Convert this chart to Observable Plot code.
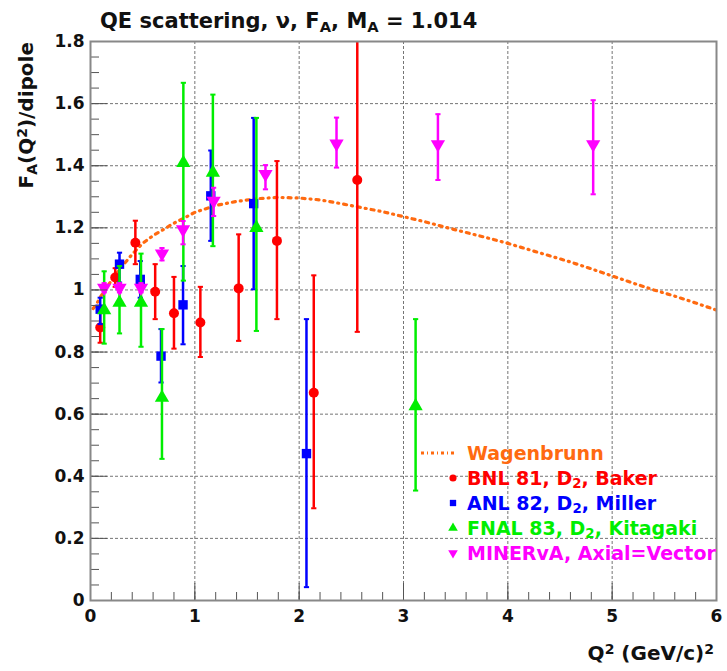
<!DOCTYPE html>
<html>
<head>
<meta charset="utf-8">
<script src="https://cdn.jsdelivr.net/npm/d3@7"></script>
<script src="https://cdn.jsdelivr.net/npm/@observablehq/plot@0.6"></script>
<style>
  body { margin: 0; background: white; }
  #chart svg { display: block; }
</style>
</head>
<body>
<div id="chart"></div>
<script>
// ---- Data ----
const xMajor = [0, 1, 2, 3, 4, 5, 6];
const xMinor = d3.range(0, 6.001, 0.2);
const yMajor = [0, 0.2, 0.4, 0.6, 0.8, 1, 1.2, 1.4, 1.6, 1.8];
const yMinor = d3.range(0, 1.8001, 0.05);

// Wagenbrunn curve
const wagQ2 = [0.0, 0.05, 0.1, 0.2, 0.3, 0.4, 0.5, 0.6, 0.7, 0.8, 0.9, 1.0, 1.2, 1.4, 1.6, 1.8, 2.0, 2.2, 2.4, 2.6, 2.8, 3.0, 3.2, 3.4, 3.6, 3.8, 4.0, 4.2, 4.4, 4.6, 4.8, 5.0, 5.2, 5.4, 5.6, 5.8, 6.0];
const wagR  = [0.93, 0.95, 0.98, 1.03, 1.075, 1.115, 1.15, 1.175, 1.195, 1.215, 1.232, 1.25, 1.272, 1.285, 1.294, 1.298, 1.296, 1.29, 1.278, 1.265, 1.252, 1.236, 1.22, 1.202, 1.185, 1.168, 1.15, 1.13, 1.11, 1.09, 1.068, 1.045, 1.022, 1.0, 0.98, 0.958, 0.935];

// BNL 81, D2, Baker (red)
const bnlQ2 = [0.093, 0.237, 0.43, 0.62, 0.80, 1.053, 1.42, 1.787, 2.14, 2.557];
const bnlF  = [0.879, 1.04, 1.152, 0.994, 0.925, 0.895, 1.005, 1.158, 0.669, 1.354];
const bnlLo = [0.83, 1.01, 1.083, 0.906, 0.811, 0.784, 0.836, 0.906, 0.297, 0.865];
const bnlHi = [0.93, 1.07, 1.223, 1.083, 1.042, 1.01, 1.179, 1.415, 1.047, 1.9];

// ANL 82, D2, Miller (blue)
const anlQ2 = [0.093, 0.278, 0.477, 0.676, 0.887, 1.153, 1.564, 2.07];
const anlF  = [0.938, 1.083, 1.034, 0.787, 0.952, 1.303, 1.278, 0.473];
const anlLo = [0.89, 1.024, 0.975, 0.702, 0.825, 1.158, 1.002, 0.043];
const anlHi = [0.975, 1.12, 1.093, 0.874, 1.077, 1.449, 1.554, 0.906];

// FNAL 83, D2, Kitagaki (green)
const fnalQ2 = [0.131, 0.278, 0.484, 0.685, 0.89, 1.173, 1.59, 3.116];
const fnalF  = [0.935, 0.959, 0.959, 0.653, 1.409, 1.378, 1.2, 0.626];
const fnalLo = [0.827, 0.86, 0.817, 0.456, 1.03, 1.141, 0.868, 0.354];
const fnalHi = [1.06, 1.077, 1.117, 0.874, 1.667, 1.629, 1.554, 0.906];

// MINERvA, Axial=Vector (magenta)
const minQ2 = [0.131, 0.278, 0.484, 0.685, 0.887, 1.18, 1.677, 2.358, 3.33, 4.818];
const minF  = [1.007, 1.007, 1.007, 1.117, 1.195, 1.287, 1.373, 1.471, 1.469, 1.469];
const minLo = [0.992, 0.992, 0.992, 1.095, 1.147, 1.238, 1.324, 1.394, 1.354, 1.308];
const minHi = [1.022, 1.022, 1.022, 1.135, 1.222, 1.329, 1.402, 1.555, 1.566, 1.611];

// ---- Build tables ----
const table = (q, f, lo, hi) => q.map((x, i) => ({x, y: f[i], lo: lo[i], hi: hi[i]}));
const wag = wagQ2.map((x, i) => ({x, y: wagR[i]}));
const series = [
  {key: "bnl", data: table(bnlQ2, bnlF, bnlLo, bnlHi), color: "#ff0000", symbol: "circle", rotate: 0},
  {key: "anl", data: table(anlQ2, anlF, anlLo, anlHi), color: "#0000ff", symbol: "square", rotate: 0},
  {key: "fnal", data: table(fnalQ2, fnalF, fnalLo, fnalHi), color: "#00ee00", symbol: "triangle", rotate: 0},
  {key: "min", data: table(minQ2, minF, minLo, minHi), color: "#ff00ff", symbol: "triangle", rotate: 180}
];
const orange = "#ff6a10";

// Horizontal cap symbol for error-bar ends
const capSymbol = {
  draw(context, size) {
    const r = Math.sqrt(size / Math.PI);
    context.moveTo(-r, 0);
    context.lineTo(r, 0);
  }
};

const gridStyle = {stroke: "#666", strokeOpacity: 0.9, strokeWidth: 1, strokeDasharray: "3,2"};

const marks = [
  Plot.gridX(xMajor, gridStyle),
  Plot.gridY(yMajor, gridStyle),
  Plot.line(wag, {x: "x", y: "y", stroke: orange, strokeWidth: 3.2, strokeDasharray: "3,5,1,5", strokeDashoffset: -4, clip: true})
];
for (const s of series) {
  marks.push(
    Plot.ruleX(s.data, {x: "x", y1: "lo", y2: "hi", stroke: s.color, strokeWidth: 2.5, clip: true}),
    Plot.dot(s.data, {x: "x", y: "lo", symbol: capSymbol, r: 2.6, stroke: s.color, strokeWidth: 2, fill: "none", clip: true}),
    Plot.dot(s.data, {x: "x", y: "hi", symbol: capSymbol, r: 2.6, stroke: s.color, strokeWidth: 2, fill: "none", clip: true}),
    Plot.dot(s.data, {x: "x", y: "y", symbol: s.symbol, r: s.symbol === "circle" ? 5 : 5.3, rotate: s.rotate, fill: s.color, stroke: "none"})
  );
}
marks.push(
  Plot.axisX({ticks: xMinor, tickSize: -8, tickFormat: () => "", label: null, stroke: "#555"}),
  Plot.axisX({ticks: xMajor, tickSize: -17, tickFormat: () => "", label: null, stroke: "#555"}),
  Plot.axisX({ticks: xMajor, tickSize: 0, tickPadding: 9, tickFormat: d => String(d), label: null, fill: "#111"}),
  Plot.axisY({ticks: yMinor, tickSize: -9, tickFormat: () => "", label: null, stroke: "#555"}),
  Plot.axisY({ticks: yMajor, tickSize: -17, tickFormat: () => "", label: null, stroke: "#555"}),
  Plot.axisY({ticks: yMajor, tickSize: 0, tickPadding: 6, tickFormat: d => String(+d.toFixed(1)), label: null, fill: "#111"}),
  Plot.frame({stroke: "#888", strokeWidth: 2})
);

const chart = Plot.plot({
  width: 727,
  height: 671,
  marginLeft: 90,
  marginRight: 11,
  marginTop: 41,
  marginBottom: 71,
  x: {domain: [0, 6]},
  y: {domain: [0, 1.8]},
  style: {fontFamily: "DejaVu Sans", fontWeight: "bold", fontSize: "17px", background: "white", color: "#111"},
  marks
});
document.getElementById("chart").appendChild(chart);

// ---- Text with sub/superscripts and legend (appended to the SVG) ----
const svg = d3.select(chart);
const font = "DejaVu Sans";

function richText(g, parts, attrs) {
  const t = g.append("text").attr("font-family", font).attr("font-weight", "bold").attr("text-anchor", "start");
  for (const [k, v] of Object.entries(attrs)) t.attr(k, v);
  for (const p of parts) {
    const ts = t.append("tspan").text(p.t);
    if (p.sub) ts.attr("font-size", "0.7em").attr("baseline-shift", "-25%");
    if (p.sup) ts.attr("font-size", "0.7em").attr("baseline-shift", "45%");
    if (p.fill) ts.attr("fill", p.fill);
  }
  return t;
}

// Title
richText(svg, [
  {t: "QE scattering, ν, F"}, {t: "A", sub: true}, {t: ", M"}, {t: "A", sub: true}, {t: " = 1.014"}
], {x: 100, y: 28, "font-size": 21, fill: "#111"});

// Y axis title
richText(svg, [
  {t: "F"}, {t: "A", sub: true}, {t: "(Q"}, {t: "2", sup: true}, {t: ")/dipole"}
], {transform: "translate(33,42) rotate(-90)", "text-anchor": "end", "font-size": 20, fill: "#111"});

// X axis title
richText(svg, [
  {t: "Q"}, {t: "2", sup: true}, {t: " (GeV/c)"}, {t: "2", sup: true}
], {x: 714, y: 660, "text-anchor": "end", "font-size": 20, fill: "#111"});

// Legend
const legendLabels = [
  {parts: [{t: "Wagenbrunn"}], color: orange, kind: "line"},
  {parts: [{t: "BNL 81, D"}, {t: "2", sub: true}, {t: ", Baker"}], color: "#ff0000", kind: d3.symbolCircle, rot: 0},
  {parts: [{t: "ANL 82, D"}, {t: "2", sub: true}, {t: ", Miller"}], color: "#0000ff", kind: d3.symbolSquare, rot: 0},
  {parts: [{t: "FNAL 83, D"}, {t: "2", sub: true}, {t: ", Kitagaki"}], color: "#00ee00", kind: d3.symbolTriangle, rot: 0},
  {parts: [{t: "MINERvA, Axial=Vector"}], color: "#ff00ff", kind: d3.symbolTriangle, rot: 180}
];
const lg = svg.append("g");
legendLabels.forEach((e, i) => {
  const base = 460 + i * 25;
  const cy = base - 7;
  if (e.kind === "line") {
    lg.append("line").attr("x1", 421).attr("x2", 457).attr("y1", cy).attr("y2", cy)
      .attr("stroke", e.color).attr("stroke-width", 3).attr("stroke-dasharray", "3,3,1,3");
  } else {
    lg.append("path").attr("d", d3.symbol(e.kind, 40)())
      .attr("transform", `translate(453,${cy}) rotate(${e.rot})`)
      .attr("fill", e.color);
  }
  richText(lg, e.parts, {x: 467, y: base, "font-size": 19, fill: e.color});
});
</script>
</body>
</html>
